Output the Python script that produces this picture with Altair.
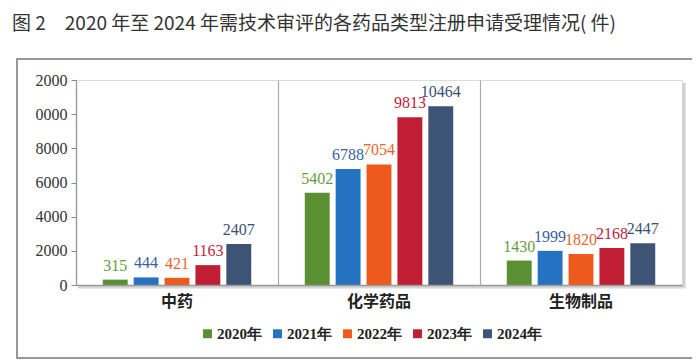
import altair as alt
import pandas as pd

categories = ["中药", "化学药品", "生物制品"]
years = ["2020年", "2021年", "2022年", "2023年", "2024年"]
v2020 = [315, 5402, 1430]
v2021 = [444, 6788, 1999]
v2022 = [421, 7054, 1820]
v2023 = [1163, 9813, 2168]
v2024 = [2407, 10464, 2447]
y_ticks = [0, 2000, 4000, 6000, 8000, 10000, 12000]
title_text = "图 2\u30002020 年至 2024 年需技术审评的各药品类型注册申请受理情况( 件)"

series = [v2020, v2021, v2022, v2023, v2024]
rows = []
for yr, vals in zip(years, series):
    for c, v in zip(categories, vals):
        rows.append({"cat": c, "year": yr, "value": v})
df = pd.DataFrame(rows)

W, H = 606, 205
bar_colors = ["#5b9032", "#2672c2", "#ee5a1d", "#bf1e34", "#3e5476"]
text_colors = ["#6a9a3c", "#3a5ea6", "#e8642a", "#c0213c", "#3a5072"]
SERIF = "'Liberation Serif', 'DejaVu Serif', serif"

x = alt.X(
    "cat:N", sort=categories,
    scale=alt.Scale(paddingInner=0, paddingOuter=0),
    axis=alt.Axis(title=None, labelAngle=0, ticks=False, labelPadding=8,
                  labelFont="Noto Sans CJK SC", labelFontWeight="bold",
                  labelFontSize=16, labelColor="#222",
                  grid=True, bandPosition=0, gridColor="#aaaaaa", gridWidth=1.2,
                  domainColor="#999999", domainWidth=1.5, zindex=1),
)
xo = alt.XOffset("year:N", sort=years,
                 scale=alt.Scale(paddingInner=0.194, paddingOuter=0.867))
y = alt.Y(
    "value:Q", scale=alt.Scale(domain=[0, 12000], nice=False),
    axis=alt.Axis(title=None, values=y_ticks, format="d",
                  labelExpr="slice(datum.label, -4)",
                  labelFont=SERIF, labelFontSize=16, labelColor="#333",
                  tickSize=5, tickColor="#888888", labelPadding=4,
                  domainColor="#999999", domainWidth=1.2, grid=False, zindex=1),
)

frame = alt.Chart(alt.Data(values=[{}])).mark_rect(
    fill="transparent", stroke="#777777", strokeWidth=1.5
).encode(
    x=alt.value(-59), x2=alt.value(617), y=alt.value(-21), y2=alt.value(278)
)

shadow_r = alt.Chart(alt.Data(values=[{}])).mark_rule(
    color="#cfcfcf", strokeWidth=3
).encode(x=alt.value(W + 2), y=alt.value(3), y2=alt.value(H + 3))
shadow_b = alt.Chart(alt.Data(values=[{}])).mark_rule(
    color="#d6d6d6", strokeWidth=3
).encode(x=alt.value(2), x2=alt.value(W + 3), y=alt.value(H + 2))

bars = alt.Chart(df).mark_bar().encode(
    x=x, xOffset=xo, y=y,
    color=alt.Color("year:N", sort=years,
                    scale=alt.Scale(domain=years, range=bar_colors),
                    legend=alt.Legend(title=None, orient="none", direction="horizontal",
                                      legendX=124, legendY=246,
                                      symbolType="square", symbolSize=80,
                                      symbolStrokeWidth=0,
                                      labelFont=SERIF, labelFontWeight="bold",
                                      labelFontSize=15, labelColor="#222",
                                      labelOffset=2, columnPadding=8)),
)

labels = alt.Chart(df).mark_text(
    baseline="alphabetic", dy=-9, font=SERIF, fontSize=16
).encode(
    x=x, xOffset=xo, y=y, text=alt.Text("value:Q", format="d"),
    color=alt.Color("year:N", sort=years,
                    scale=alt.Scale(domain=years, range=text_colors), legend=None),
)

chart = alt.layer(frame, shadow_r, shadow_b, bars, labels).resolve_scale(
    color="independent"
).properties(
    width=W, height=H,
    autosize=alt.AutoSizeParams(type="none"),
    padding={"left": 68, "top": 72, "right": 10, "bottom": 79},
    title=alt.TitleParams(title_text, anchor="start", frame="group", dx=-64,
                          offset=24, fontSize=19, font="Noto Sans CJK SC",
                          fontWeight="normal", color="#333333"),
).configure_view(
    stroke="#d8d8d8", strokeWidth=1, fill="white"
).configure(background="white")

chart.save("out.html", embed_options={"renderer": "svg", "actions": False})
